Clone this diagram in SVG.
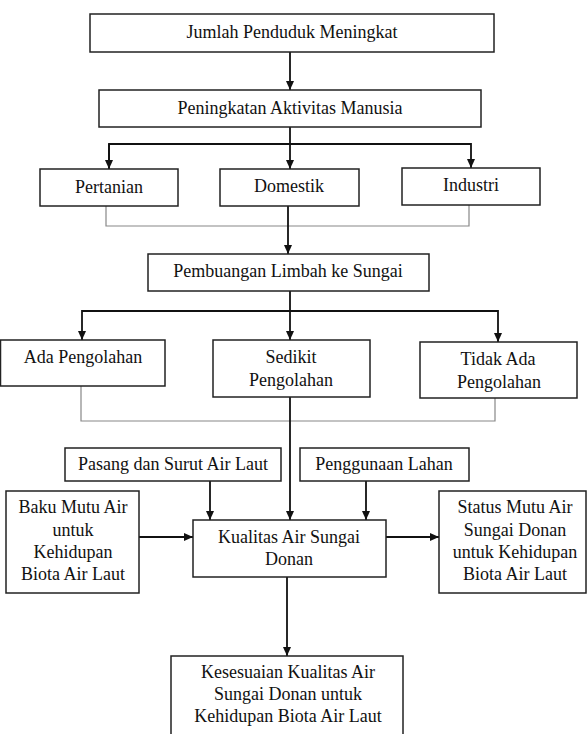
<svg xmlns="http://www.w3.org/2000/svg" width="587" height="734" viewBox="0 0 587 734">
<style>
.box{fill:#fff;stroke:#222;stroke-width:1.5}
.ln{fill:none;stroke:#111;stroke-width:1.8}
.br{fill:none;stroke:#888;stroke-width:1.2}
</style>
<defs>
<marker id="ah" markerUnits="userSpaceOnUse" markerWidth="10" markerHeight="10" refX="9" refY="4" orient="auto">
<path d="M0,0 L9,4 L0,8 Z" fill="#111"/>
</marker>
</defs>
<rect width="587" height="734" fill="#fff"/>
<g id="connectors">
<line class="ln" x1="290" y1="52" x2="290" y2="90" marker-end="url(#ah)"/>
<line class="ln" x1="290" y1="127" x2="290" y2="169" marker-end="url(#ah)"/>
<polyline class="ln" points="109,169 109,144 471,144 471,168" marker-end="url(#ah)"/>
<line class="ln" x1="109" y1="144" x2="109" y2="169" marker-end="url(#ah)"/>
<polyline class="br" points="106,206 106,226 469,226 469,205"/>
<line class="ln" x1="288" y1="206" x2="288" y2="254" marker-end="url(#ah)"/>
<line class="ln" x1="290" y1="291" x2="290" y2="340" marker-end="url(#ah)"/>
<polyline class="ln" points="82,311 498,311 498,342" marker-end="url(#ah)"/>
<line class="ln" x1="82" y1="310" x2="82" y2="340" marker-end="url(#ah)"/>
<polyline class="br" points="81,386 81,421 495,421 495,398"/>
<line class="ln" x1="290" y1="397" x2="290" y2="520" marker-end="url(#ah)"/>
<line class="ln" x1="210" y1="481" x2="210" y2="520" marker-end="url(#ah)"/>
<line class="ln" x1="366" y1="481" x2="366" y2="520" marker-end="url(#ah)"/>
<line class="ln" x1="139" y1="537" x2="193" y2="537" marker-end="url(#ah)"/>
<line class="ln" x1="386" y1="537" x2="439" y2="537" marker-end="url(#ah)"/>
<line class="ln" x1="287" y1="577" x2="287" y2="656" marker-end="url(#ah)"/>
</g>
<g id="nodes" font-family="Liberation Serif" font-size="18" fill="#111" text-anchor="middle">
<g id="n1"><rect class="box" x="90" y="14" width="404" height="38"/><text x="292" y="38">Jumlah Penduduk Meningkat</text></g>
<g id="n2"><rect class="box" x="99" y="90" width="382" height="37"/><text x="290" y="114">Peningkatan Aktivitas Manusia</text></g>
<g id="n3"><rect class="box" x="40" y="169" width="138" height="37"/><text x="109" y="193">Pertanian</text></g>
<g id="n4"><rect class="box" x="220" y="169" width="139" height="37"/><text x="289" y="192">Domestik</text></g>
<g id="n5"><rect class="box" x="402" y="168" width="138" height="37"/><text x="471" y="191">Industri</text></g>
<g id="n6"><rect class="box" x="148" y="254" width="281" height="37"/><text x="288" y="277">Pembuangan Limbah ke Sungai</text></g>
<g id="n7"><rect class="box" x="0.5" y="340" width="164.5" height="46"/><text x="83" y="363">Ada Pengolahan</text></g>
<g id="n8"><rect class="box" x="213" y="340" width="157" height="57"/><text x="291" y="363">Sedikit</text><text x="291" y="386">Pengolahan</text></g>
<g id="n9"><rect class="box" x="420" y="342" width="157" height="56"/><text x="498" y="365">Tidak Ada</text><text x="499" y="388">Pengolahan</text></g>
<g id="n10"><rect class="box" x="65" y="448" width="216" height="33"/><text x="173" y="470">Pasang dan Surut Air Laut</text></g>
<g id="n11"><rect class="box" x="300" y="448" width="169" height="33"/><text x="384" y="470">Penggunaan Lahan</text></g>
<g id="n12"><rect class="box" x="6" y="491" width="133" height="102"/><text x="73" y="513">Baku Mutu Air</text><text x="73" y="536">untuk</text><text x="73" y="558">Kehidupan</text><text x="73" y="580">Biota Air Laut</text></g>
<g id="n13"><rect class="box" x="193" y="520" width="193" height="57"/><text x="289" y="543">Kualitas Air Sungai</text><text x="289" y="565">Donan</text></g>
<g id="n14"><rect class="box" x="439" y="491" width="147" height="102"/><text x="515" y="513">Status Mutu Air</text><text x="515" y="536">Sungai Donan</text><text x="515" y="558">untuk Kehidupan</text><text x="515" y="580">Biota Air Laut</text></g>
<g id="n15"><rect class="box" x="171" y="656" width="232" height="82"/><text x="288" y="678">Kesesuaian Kualitas Air</text><text x="288" y="700">Sungai Donan untuk</text><text x="288" y="722">Kehidupan Biota Air Laut</text></g>
</g>
</svg>
